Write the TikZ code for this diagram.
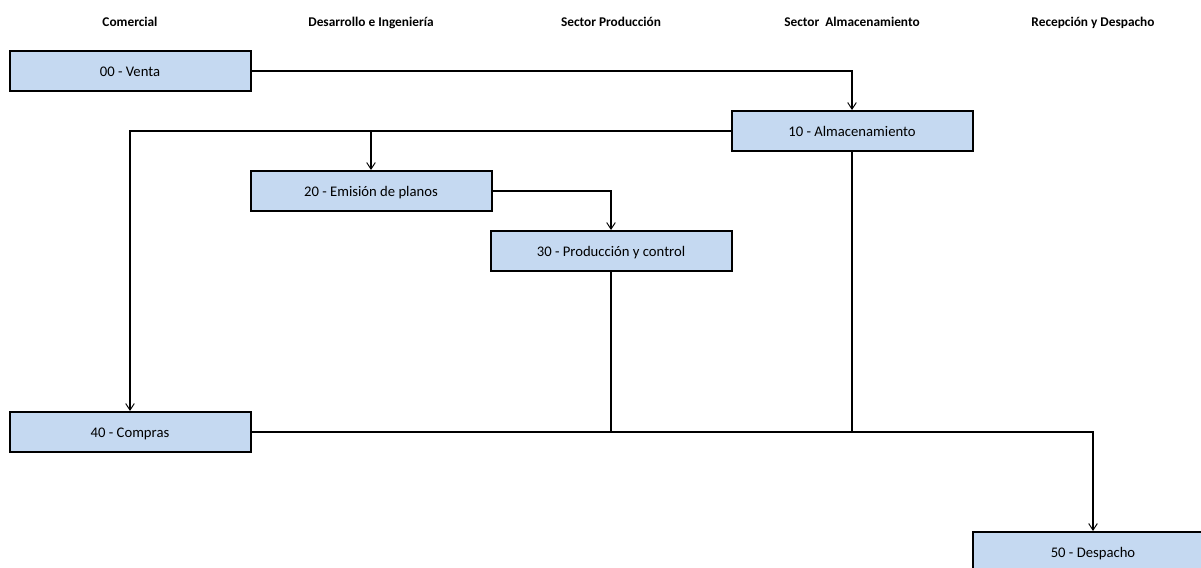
\documentclass[tikz,border=0pt]{standalone}
\usepackage{fontspec}
\setmainfont{Carlito}
\usetikzlibrary{arrows.meta}
\definecolor{cellblue}{HTML}{C5D9F1}
\begin{document}
\begin{tikzpicture}[x=0.75pt,y=-0.75pt,
  procbox/.style={draw=black,line width=1.5pt,fill=cellblue,
    minimum width=241*0.75pt,minimum height=40*0.75pt,inner sep=0pt,
    text height=9.5pt,text depth=2pt,
    font=\fontsize{11pt}{13pt}\selectfont},
  header/.style={font=\fontsize{10pt}{12pt}\selectfont\bfseries,inner sep=0pt,anchor=base},
  flow/.style={line width=1.1pt,-{Straight Barb[length=5pt,width=6.5pt,line width=0.7pt]}},
  link/.style={line width=1.1pt}]
\useasboundingbox (0,0) rectangle (1201,567);

% lane headers
\node[header] (h1) at (130,27) {Comercial};
\node[header] (h2) at (371,27) {Desarrollo e Ingeniería};
\node[header] (h3) at (611,27) {Sector Producción};
\node[header] (h4) at (852,27) {Sector\ \ Almacenamiento};
\node[header] (h5) at (1093,27) {Recepción y Despacho};

% process steps
\node[procbox] (venta)   at (130,71)  {00 - Venta};
\node[procbox] (alm)     at (852,131) {10 - Almacenamiento};
\node[procbox] (emision) at (371,191) {20 - Emisión de planos};
\node[procbox] (prod)    at (611,251) {30 - Producción y control};
\node[procbox] (compras) at (130,432) {40 - Compras};
\node[procbox] (desp)    at (1093,552) {50 - Despacho};

% connectors
\draw[flow] (venta.east) -| (alm.north);
\draw[flow] (alm.west) -| (compras.north);
\draw[flow] (emision.north |- alm.west) -- (emision.north);
\draw[flow] (emision.east) -| (prod.north);
\draw[link] (prod.south) -- (prod.south |- compras.east);
\draw[link] (alm.south) -- (alm.south |- compras.east);
\draw[flow] (compras.east) -| (desp.north);
\end{tikzpicture}
\end{document}
